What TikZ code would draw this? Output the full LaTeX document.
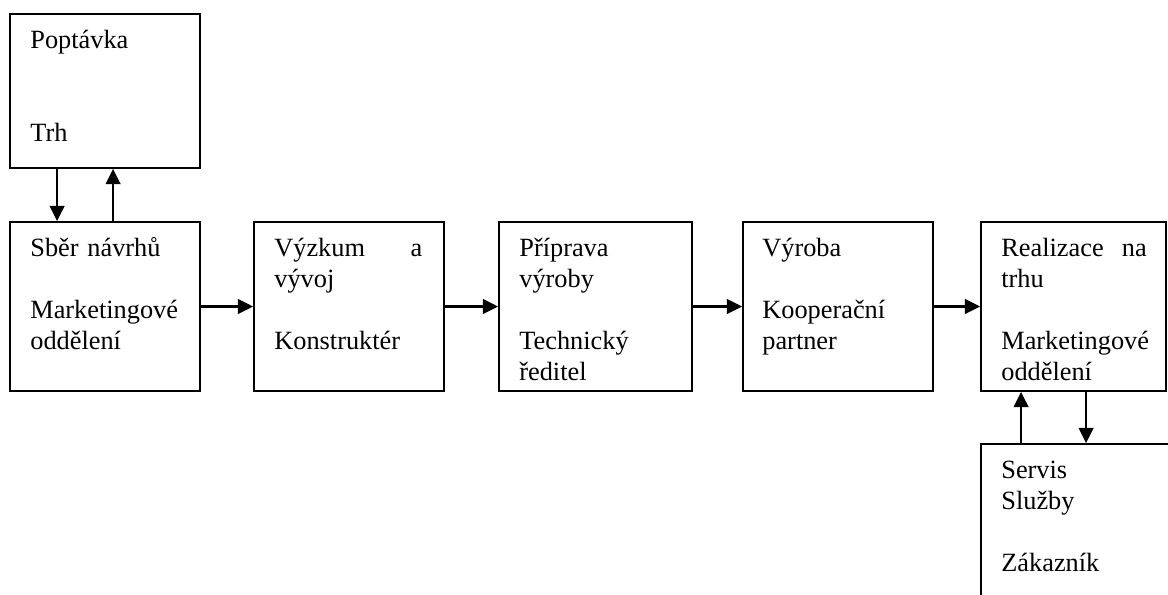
\documentclass[tikz,border=0pt]{standalone}
\usepackage{fontspec}
\setmainfont{Liberation Serif}
\usetikzlibrary{arrows.meta,calc,fit}
\begin{document}
\begin{tikzpicture}[x=0.75pt,y=-0.75pt,
  box/.style={draw, line width=1.35pt, inner sep=0pt},
  txt/.style={anchor=north west, inner sep=0pt, text width=111pt, align=left,
    font=\fontsize{19.75}{23.25}\selectfont},
  arr/.style={line width=1.7pt, -{Triangle[length=11.5pt,width=11pt]}}]
\useasboundingbox (0,0) rectangle (1168,594);
\clip (0,0) rectangle (1168,594);
% boxes
\node[box, fit={(10,14)(200,168)}] (P) {};
\node[box, fit={(10,222)(200,391)}] (b1) {};
\node[box, fit={(254,222)(444,391)}] (b2) {};
\node[box, fit={(499,222)(692,391)}] (b3) {};
\node[box, fit={(743,222)(933,391)}] (b4) {};
\node[box, fit={(981,222)(1166,391)}] (b5) {};
\node[box, fit={(981,444)(1190,620)}] (S) {};
% texts
\node[txt] (tP) at ($(P.north west)+(21,13)$) {\strut Popt\'avka\\ \mbox{}\\ \mbox{}\\ Trh};
\node[txt] (t1) at ($(b1.north west)+(21,13)$) {\strut Sběr návrhů\\ \mbox{}\\ Marketingové\\ oddělení};
\node[txt] (t2) at ($(b2.north west)+(21,13)$) {\strut Výzkum\hfill a\\ vývoj\\ \mbox{}\\ Konstruktér};
\node[txt] (t3) at ($(b3.north west)+(21,13)$) {\strut Příprava\\ výroby\\ \mbox{}\\ Technický\\ ředitel};
\node[txt] (t4) at ($(b4.north west)+(20,13)$) {\strut Výroba\\ \mbox{}\\ Kooperační\\ partner};
\node[txt, text width=109pt] (t5) at ($(b5.north west)+(21,13)$) {\strut Realizace\hfill na\\ trhu\\ \mbox{}\\ Marketingové\\ oddělení};
\node[txt] (tS) at ($(S.north west)+(21,13)$) {\strut Servis\\ Služby\\ \mbox{}\\ Zákazník};
% connectors
\draw[arr] ($(P.south west)+(48,0)$) -- ($(b1.north west)+(48,0)$);
\draw[arr] ($(b1.north west)+(104,0)$) -- ($(P.south west)+(104,0)$);
\draw[arr] (b1.east) -- (b2.west);
\draw[arr] (b2.east) -- (b3.west);
\draw[arr] (b3.east) -- (b4.west);
\draw[arr] (b4.east) -- (b5.west);
\draw[arr] ($(S.north west)+(41,0)$) -- ($(b5.south west)+(41,0)$);
\draw[arr] ($(b5.south west)+(106,0)$) -- ($(S.north west)+(106,0)$);
\end{tikzpicture}
\end{document}
